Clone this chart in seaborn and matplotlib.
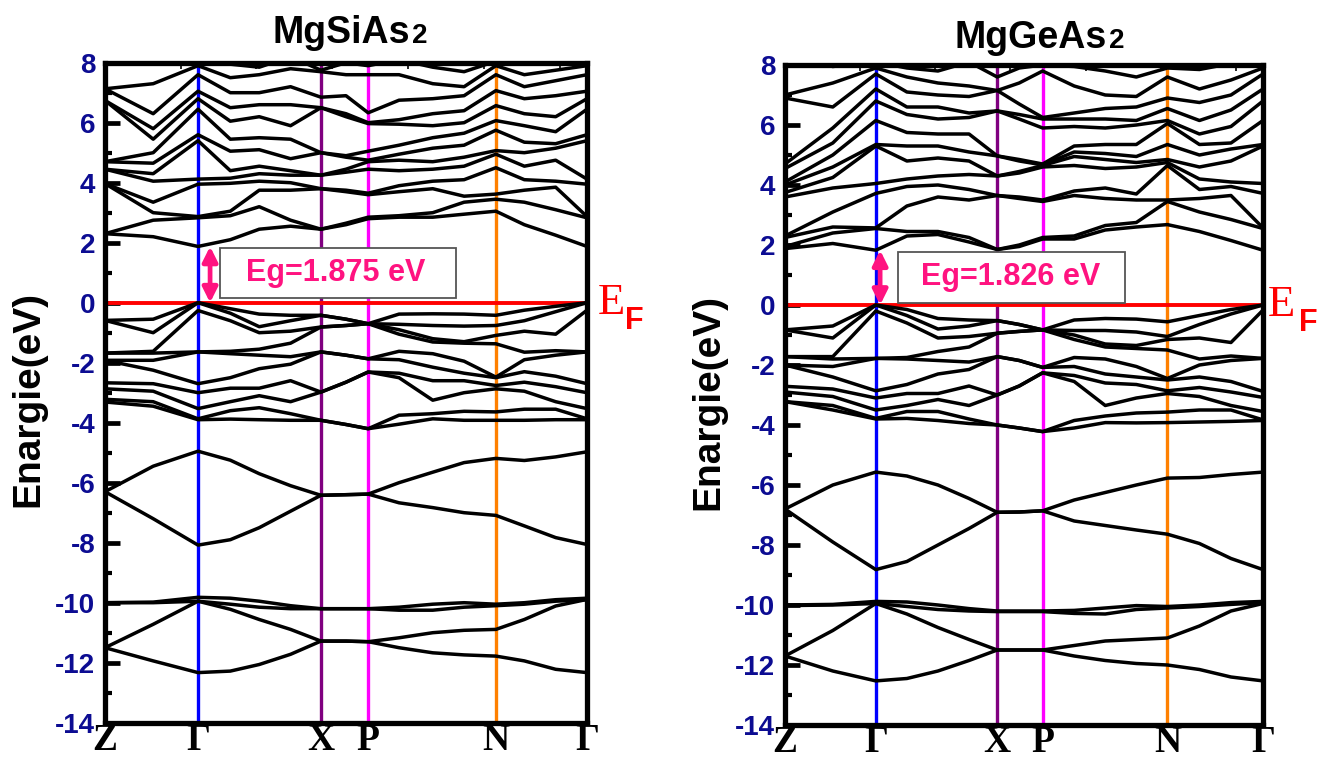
import numpy as np
import pandas as pd
import matplotlib
matplotlib.use("Agg")
import matplotlib.pyplot as plt
from matplotlib.patches import Rectangle
from matplotlib.ticker import FixedLocator, MultipleLocator
import seaborn as sns

sns.set_theme(style="white")
plt.rcParams["font.family"] = ["Liberation Sans", "DejaVu Sans"]
plt.rcParams["axes.unicode_minus"] = False

# ---------------------------------------------------------------- k-path
SYM_LABELS = ["Z", "Γ", "X", "P", "N", "Γ"]
SI_SYM = [0.0, 0.193, 0.448, 0.546, 0.811, 1.0]
GE_SYM = [0.0, 0.19, 0.444, 0.539, 0.8, 1.0]
SYM_COLORS = [None, "#0000FF", "#800080", "#FF00FF", "#FF8000", None]

K_SI = [0.0, 0.1, 0.193, 0.26, 0.32, 0.385, 0.448, 0.5, 0.546, 0.61, 0.68,
        0.745, 0.811, 0.87, 0.935, 1.0]
K_GE = [0.0, 0.1, 0.19, 0.255, 0.32, 0.385, 0.444, 0.49, 0.539, 0.605, 0.67,
        0.735, 0.8, 0.867, 0.933, 1.0]

GAP_SI = 1.875
GAP_GE = 1.826

# ---------------------------------------------------------------- MgSiAs2
# deep bands, one row per band along K_SI
SI_DEEP = [
    [-11.5, -11.94, -12.33, -12.28, -12.06, -11.72, -11.28, -11.28, -11.3, -11.5, -11.67, -11.74, -11.78, -11.94, -12.22, -12.33],
    [-11.5, -10.72, -9.95, -10.22, -10.56, -10.89, -11.28, -11.28, -11.3, -11.17, -11.0, -10.92, -10.89, -10.56, -10.11, -9.89],
    [-10.0, -10.0, -9.95, -10.05, -10.15, -10.2, -10.2, -10.2, -10.2, -10.25, -10.25, -10.15, -10.1, -10.05, -9.95, -9.9],
    [-10.0, -9.98, -9.82, -9.85, -9.95, -10.1, -10.2, -10.2, -10.2, -10.15, -10.05, -10.0, -10.05, -10.0, -9.9, -9.85],
    [-6.3, -7.2, -8.08, -7.9, -7.5, -6.95, -6.42, -6.4, -6.38, -6.67, -6.83, -7.0, -7.09, -7.44, -7.83, -8.06],
    [-6.3, -5.45, -4.95, -5.25, -5.7, -6.1, -6.42, -6.4, -6.38, -6.0, -5.65, -5.33, -5.19, -5.26, -5.14, -4.97],
]
# upper valence bands, one list of energies per k in K_SI
SI_VALENCE = [
    [-0.59, -0.59, -1.68, -1.68, -1.92, -1.92, -2.67, -2.87, -3.22, -3.31],
    [-0.55, -1.0, -1.62, -1.68, -1.92, -2.25, -2.7, -2.95, -3.3, -3.45],
    [0.0, 0.0, -0.26, -1.64, -1.64, -2.7, -3.0, -3.53, -3.87, -3.9],
    [-0.2, -0.35, -0.6, -1.62, -1.7, -2.5, -2.85, -3.3, -3.6, -3.88],
    [-0.38, -0.8, -1.0, -1.55, -1.75, -2.2, -2.85, -3.1, -3.5, -3.9],
    [-0.42, -0.6, -0.95, -1.35, -1.8, -2.05, -2.6, -3.3, -3.7, -3.92],
    [-0.42, -0.42, -0.81, -0.81, -1.64, -1.64, -2.98, -2.98, -3.92, -3.92],
    [-0.55, -0.55, -0.76, -0.76, -1.75, -1.75, -2.65, -2.65, -4.06, -4.06],
    [-0.7, -0.7, -0.7, -0.7, -1.87, -1.87, -2.31, -2.31, -4.2, -4.2],
    [-0.38, -0.72, -0.9, -1.05, -1.62, -1.9, -2.35, -2.5, -3.75, -4.05],
    [-0.37, -0.76, -1.2, -1.31, -1.7, -2.15, -2.6, -3.25, -3.7, -3.87],
    [-0.38, -0.78, -1.3, -1.35, -1.95, -2.35, -2.6, -3.0, -3.62, -3.92],
    [-0.42, -0.76, -1.09, -1.37, -2.48, -2.5, -2.76, -2.87, -3.64, -3.92],
    [-0.25, -0.6, -0.95, -1.65, -1.9, -2.3, -2.65, -2.95, -3.55, -3.92],
    [-0.12, -0.3, -1.05, -1.6, -1.75, -2.45, -2.8, -3.3, -3.55, -3.9],
    [0.0, 0.0, -0.25, -1.64, -1.64, -2.7, -3.0, -3.53, -3.87, -3.9],
]
# conduction bands, one list of energies per k in K_SI
SI_CONDUCTION = [
    [2.3, 2.3, 3.97, 3.97, 4.45, 4.45, 4.7, 4.7, 6.74, 6.74, 7.13, 7.13, 8.4],
    [2.2, 2.75, 3.0, 3.35, 4.05, 4.3, 4.65, 5.0, 5.45, 5.8, 6.3, 7.3, 8.0],
    [GAP_SI, 2.83, 2.87, 3.95, 4.12, 5.4, 5.6, 6.45, 6.8, 7.05, 7.6, 7.9, 8.2],
    [2.1, 2.9, 3.05, 3.98, 4.15, 4.4, 5.05, 5.45, 6.05, 6.5, 7.0, 7.5, 7.95],
    [2.45, 3.2, 3.75, 4.05, 4.3, 4.55, 5.1, 5.5, 6.2, 6.6, 7.0, 7.6, 7.85],
    [2.55, 2.75, 3.75, 4.0, 4.25, 4.4, 4.8, 5.45, 5.9, 6.6, 7.2, 7.8, 8.2],
    [2.45, 2.45, 3.8, 3.8, 4.25, 4.25, 5.0, 5.0, 6.5, 6.5, 6.85, 7.7, 7.75],
    [2.6, 2.65, 3.7, 3.75, 4.35, 4.45, 4.85, 4.9, 6.2, 6.3, 6.9, 7.6, 8.0],
    [2.8, 2.85, 3.6, 3.65, 4.45, 4.7, 4.75, 5.05, 5.97, 6.0, 6.33, 7.6, 7.9],
    [2.85, 2.9, 3.7, 3.9, 4.4, 4.75, 4.95, 5.25, 5.95, 6.1, 6.75, 7.6, 8.1],
    [2.85, 3.0, 3.8, 4.05, 4.45, 4.7, 5.15, 5.5, 5.9, 6.3, 6.8, 7.3, 7.85],
    [2.95, 3.35, 3.55, 4.1, 4.55, 4.85, 5.25, 5.65, 6.0, 6.4, 6.9, 7.2, 7.7],
    [3.05, 3.45, 3.62, 4.5, 4.95, 5.07, 5.75, 6.07, 6.57, 7.07, 7.6, 7.9, 8.05],
    [2.6, 3.35, 3.75, 4.1, 4.55, 5.0, 5.35, 5.9, 6.3, 6.8, 7.2, 7.6, 7.95],
    [2.25, 3.1, 3.85, 4.05, 4.75, 5.15, 5.3, 5.7, 6.2, 6.9, 7.4, 7.75, 8.1],
    [GAP_SI, 2.83, 2.87, 3.95, 4.12, 5.4, 5.6, 6.45, 6.8, 7.05, 7.6, 7.9, 8.2],
]

# ---------------------------------------------------------------- MgGeAs2
GE_DEEP = [
    [-11.7, -12.2, -12.53, -12.45, -12.2, -11.85, -11.5, -11.5, -11.5, -11.7, -11.85, -11.95, -12.0, -12.15, -12.4, -12.53],
    [-11.7, -10.85, -9.95, -10.3, -10.75, -11.15, -11.5, -11.5, -11.5, -11.35, -11.2, -11.15, -11.1, -10.7, -10.2, -9.95],
    [-10.02, -10.0, -9.95, -10.05, -10.15, -10.2, -10.22, -10.22, -10.22, -10.28, -10.3, -10.15, -10.1, -10.05, -9.98, -9.92],
    [-10.0, -9.98, -9.88, -9.9, -10.0, -10.12, -10.2, -10.2, -10.2, -10.18, -10.1, -10.02, -10.05, -10.0, -9.92, -9.88],
    [-6.8, -7.9, -8.82, -8.55, -8.0, -7.45, -6.91, -6.9, -6.86, -7.2, -7.35, -7.5, -7.64, -7.95, -8.45, -8.82],
    [-6.8, -6.0, -5.57, -5.7, -6.0, -6.45, -6.91, -6.9, -6.86, -6.5, -6.25, -6.0, -5.77, -5.75, -5.65, -5.57],
]
GE_VALENCE = [
    [-0.83, -0.83, -1.72, -1.72, -2.0, -2.0, -2.71, -2.9, -3.22, -3.22],
    [-0.7, -1.1, -1.72, -1.8, -2.05, -2.4, -2.8, -3.05, -3.35, -3.5],
    [0.0, 0.0, -0.2, -1.78, -1.78, -2.86, -3.1, -3.5, -3.78, -3.8],
    [-0.15, -0.35, -0.6, -1.75, -1.8, -2.65, -2.95, -3.35, -3.55, -3.78],
    [-0.45, -0.8, -1.1, -1.55, -1.85, -2.3, -2.95, -3.15, -3.55, -3.85],
    [-0.5, -0.7, -1.05, -1.4, -1.9, -2.15, -2.7, -3.35, -3.8, -3.95],
    [-0.52, -0.52, -0.94, -0.94, -1.72, -1.72, -3.0, -3.0, -4.0, -4.0],
    [-0.65, -0.65, -0.88, -0.88, -1.85, -1.85, -2.7, -2.7, -4.1, -4.1],
    [-0.83, -0.83, -0.83, -0.83, -2.08, -2.08, -2.26, -2.26, -4.22, -4.22],
    [-0.5, -0.85, -1.0, -1.15, -1.75, -2.05, -2.35, -2.55, -3.85, -4.1],
    [-0.45, -0.85, -1.3, -1.4, -1.8, -2.3, -2.6, -3.35, -3.7, -3.92],
    [-0.47, -0.9, -1.35, -1.45, -2.05, -2.4, -2.65, -3.1, -3.6, -3.93],
    [-0.56, -1.05, -1.15, -1.5, -2.45, -2.5, -2.86, -2.95, -3.57, -3.92],
    [-0.35, -0.65, -1.1, -1.8, -2.0, -2.4, -2.75, -3.05, -3.5, -3.9],
    [-0.15, -0.3, -1.25, -1.7, -1.85, -2.55, -2.9, -3.35, -3.5, -3.88],
    [0.0, 0.0, -0.17, -1.78, -1.78, -2.88, -3.08, -3.55, -3.83, -3.85],
]
GE_CONDUCTION = [
    [1.88, 1.95, 2.25, 2.3, 3.6, 3.75, 4.0, 4.1, 4.55, 4.7, 6.9, 7.0, 8.3],
    [2.05, 2.4, 2.6, 3.1, 3.9, 4.25, 4.6, 5.0, 5.4, 5.9, 6.6, 7.4, 7.95],
    [GAP_GE, 2.55, 2.57, 3.72, 4.05, 5.3, 5.35, 6.15, 6.8, 7.2, 7.7, 7.9, 8.1],
    [2.3, 2.45, 3.3, 3.95, 4.2, 4.8, 5.3, 5.75, 6.35, 6.6, 7.1, 7.6, 7.9],
    [2.35, 2.45, 3.6, 4.0, 4.3, 4.9, 5.3, 5.7, 6.2, 6.6, 7.0, 7.4, 7.8],
    [2.1, 2.25, 3.5, 3.85, 4.35, 4.8, 5.1, 5.7, 6.25, 6.4, 6.95, 7.3, 8.1],
    [1.85, 1.85, 3.65, 3.65, 4.3, 4.3, 4.97, 4.97, 6.47, 6.47, 7.15, 7.15, 7.6],
    [1.95, 2.0, 3.55, 3.6, 4.4, 4.45, 4.8, 4.85, 6.2, 6.35, 6.7, 7.4, 7.9],
    [2.2, 2.25, 3.45, 3.5, 4.6, 4.65, 4.67, 4.7, 5.9, 6.2, 6.25, 7.8, 8.0],
    [2.2, 2.3, 3.65, 3.8, 4.65, 4.95, 5.1, 5.3, 5.95, 6.2, 6.4, 7.3, 7.95],
    [2.5, 2.65, 3.55, 3.9, 4.55, 4.85, 5.05, 5.35, 5.9, 6.2, 6.55, 7.0, 7.8],
    [2.6, 2.75, 3.5, 3.7, 4.6, 4.75, 4.95, 5.35, 6.0, 6.15, 6.6, 6.95, 7.6],
    [2.68, 3.45, 3.5, 4.65, 4.75, 4.85, 5.35, 6.05, 6.15, 6.55, 6.9, 7.6, 7.9],
    [2.45, 3.1, 3.55, 3.85, 4.2, 4.6, 5.0, 5.35, 5.7, 6.15, 6.75, 7.2, 7.85],
    [2.15, 2.85, 3.65, 3.95, 4.1, 4.8, 5.2, 5.4, 5.95, 6.5, 7.0, 7.5, 8.05],
    [GAP_GE, 2.55, 2.57, 3.72, 4.05, 5.3, 5.35, 6.15, 6.8, 7.2, 7.7, 7.9, 8.1],
]

TITLES = ["MgSiAs", "MgGeAs"]

TICK_BLUE = "#0c0c92"
PINK = "#FF1380"


def bands_to_frame(k, deep_rows, valence_cols, conduction_cols):
    """Long table (k, E, band) with every band as its own unit."""
    blocks = [np.asarray(deep_rows, float),
              np.sort(np.asarray(valence_cols, float), axis=1).T,
              np.sort(np.asarray(conduction_cols, float), axis=1).T]
    rows = []
    bid = 0
    for block in blocks:
        for band in block:
            for kv, ev in zip(k, band):
                rows.append((kv, ev, bid))
            bid += 1
    return pd.DataFrame(rows, columns=["k", "E", "band"])


def draw_panel(ax, k, sym, deep, val, cond, gap, title, title_x, title_y,
               arrow_x, box, text_xy, ef_x, f_x, f_y):
    for pos, col in zip(sym, SYM_COLORS):
        if col is not None:
            ax.axvline(pos, color=col, lw=2.4, zorder=1)
    ax.axhline(0.0, color="#FF0000", lw=2.8, zorder=1.5)

    df = bands_to_frame(k, deep, val, cond)
    sns.lineplot(data=df, x="k", y="E", units="band", estimator=None,
                 sort=False, color="black", lw=2.5, ax=ax, legend=False,
                 zorder=2, solid_joinstyle="round", solid_capstyle="round")

    ax.set_xlim(0, 1)
    ax.set_ylim(-14, 8)

    for sp in ax.spines.values():
        sp.set_visible(True)
        sp.set_color("black")
        sp.set_linewidth(3.8)
        sp.set_zorder(5)

    ax.set_xticks(sym)
    ax.set_xticklabels(SYM_LABELS, family="Liberation Serif", weight="bold",
                       fontsize=27, color="black")
    ax.tick_params(axis="x", which="major", length=0, pad=0)
    ax.xaxis.set_minor_locator(FixedLocator([0.157, 0.314, 0.471, 0.629, 0.786, 0.943]))
    ax.tick_params(axis="x", which="minor", bottom=False, top=True,
                   direction="in", length=4, width=1.2, color="black")

    ax.set_yticks(np.arange(-14, 9, 2))
    ax.yaxis.set_minor_locator(MultipleLocator(1))
    ax.tick_params(axis="y", which="major", direction="in", length=11,
                   width=3.4, color="black", labelcolor=TICK_BLUE,
                   labelsize=20, pad=7, left=True, right=False)
    ax.tick_params(axis="y", which="minor", direction="in", length=5,
                   width=3.0, color="black", left=True, right=False)
    for lab in ax.get_yticklabels():
        lab.set_fontweight("bold")

    ax.set_xlabel("")
    ax.set_ylabel("Enargie(eV)", fontsize=28, weight="bold", color="black")
    ax.yaxis.set_label_coords(-0.122, 0.49)

    # formula title: "...As" with a smaller "2"
    ax.text(title_x, title_y, title, ha="right", va="baseline", fontsize=27,
            weight="bold", color="black", clip_on=False)
    ax.text(title_x + 0.003, title_y, "2", ha="left", va="baseline",
            fontsize=20, weight="bold", color="black", clip_on=False)

    # band gap arrow and label
    ax.annotate("", xy=(arrow_x, gap), xytext=(arrow_x, 0.0),
                arrowprops=dict(arrowstyle="<|-|>", color=PINK, lw=3.4,
                                mutation_scale=22, shrinkA=0, shrinkB=0),
                zorder=6)
    bx, by, bw, bh = box
    ax.add_patch(Rectangle((bx, by), bw, bh, facecolor="white",
                           edgecolor="#555555", lw=1.3, zorder=6))
    ax.text(text_xy[0], text_xy[1], f"Eg={gap:.3f} eV", ha="center",
            va="center", fontsize=22, weight="bold", color=PINK, zorder=7)

    # Fermi level label
    ax.text(ef_x, 0.0, "E", ha="left", va="center", fontsize=32,
            family="Liberation Serif", color="#FF0000", clip_on=False)
    ax.text(f_x, f_y, "F", ha="left", va="center", fontsize=22,
            weight="bold", color="#FF0000", clip_on=False)


fig = plt.figure(figsize=(13.23, 7.58), dpi=100)
ax1 = fig.add_axes([105 / 1323, 1 - 722.7 / 758, 482 / 1323, 660 / 758])
ax2 = fig.add_axes([785 / 1323, 1 - 725 / 758, 478 / 1323, 660 / 758])

draw_panel(ax1, K_SI, SI_SYM, SI_DEEP, SI_VALENCE, SI_CONDUCTION, GAP_SI,
           TITLES[0], 0.633, 8.66, 0.218, (0.2386, 0.16, 0.4896, 1.66),
           (0.479, 1.0), 1.022, 1.078, -0.62)
draw_panel(ax2, K_GE, GE_SYM, GE_DEEP, GE_VALENCE, GE_CONDUCTION, GAP_GE,
           TITLES[1], 0.674, 8.57, 0.199, (0.236, 0.07, 0.475, 1.70),
           (0.471, 0.92), 1.010, 1.075, -0.6)

fig.savefig("out.png", dpi=100)
